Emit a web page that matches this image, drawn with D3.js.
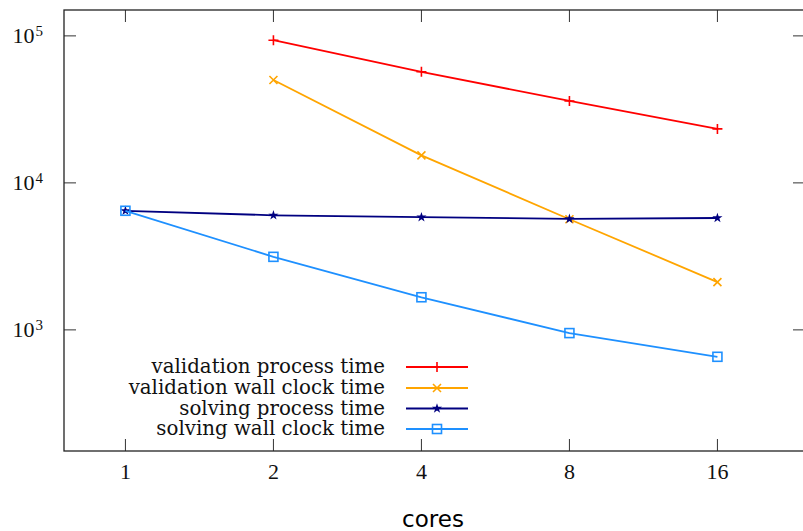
<!DOCTYPE html>
<html>
<head>
<meta charset="utf-8">
<script src="https://cdn.jsdelivr.net/npm/d3@7"></script>
<style>
  html, body { margin: 0; padding: 0; background: #fff; }
  svg { display: block; }
  .tick-num { font-family: "Liberation Serif", serif; font-size: 22px; fill: #111; }
  .legend-text { font-family: "DejaVu Serif", serif; font-size: 19.8px; fill: #111; }
  .axis-title { font-family: "DejaVu Sans", sans-serif; font-size: 23px; fill: #000; }
</style>
</head>
<body>
<svg width="803" height="531"></svg>
<script>
// data
var cores = [1, 2, 4, 8, 16];
var validationProcess = [null, 93500, 57000, 36100, 23300];
var validationWall = [null, 50100, 15400, 5660, 2115];
var solvingProcess = [6460, 6020, 5840, 5690, 5770];
var solvingWall = [6460, 3140, 1667, 951, 656];
var yTicks = [1000, 10000, 100000];

var svg = d3.select("svg"),
    width = +svg.attr("width"),
    height = +svg.attr("height");

var plotLeft = 64, plotRight = 804, plotTop = 10, plotBottom = 451;

var x = d3.scaleLog().base(2).domain([0.75, 24]).range([plotLeft, plotRight]);
var y = d3.scaleLog().domain([150, 150000]).range([plotBottom, plotTop]);

var series = [
    { name: "validation process time", values: validationProcess, color: "#ff0000", marker: "plus" },
    { name: "validation wall clock time", values: validationWall, color: "#ffa500", marker: "cross" },
    { name: "solving process time", values: solvingProcess, color: "#000080", marker: "star" },
    { name: "solving wall clock time", values: solvingWall, color: "#1e90ff", marker: "square" }
];

// ticks (inner, mirrored)
var tickG = svg.append("g").attr("stroke", "#333").attr("stroke-width", 1);
cores.forEach(function (c) {
    tickG.append("line").attr("x1", x(c)).attr("x2", x(c)).attr("y1", plotBottom).attr("y2", plotBottom - 12);
    tickG.append("line").attr("x1", x(c)).attr("x2", x(c)).attr("y1", plotTop).attr("y2", plotTop + 12);
});
yTicks.forEach(function (v) {
    tickG.append("line").attr("x1", plotLeft).attr("x2", plotLeft + 12).attr("y1", y(v)).attr("y2", y(v));
    tickG.append("line").attr("x1", plotRight - 11).attr("x2", plotRight).attr("y1", y(v)).attr("y2", y(v));
});

// frame
svg.append("rect")
    .attr("x", plotLeft).attr("y", plotTop)
    .attr("width", plotRight - plotLeft).attr("height", plotBottom - plotTop)
    .attr("fill", "none").attr("stroke", "#222").attr("stroke-width", 1.3);

// tick labels
svg.append("g").selectAll("text")
    .data(cores)
    .enter().append("text")
    .attr("class", "tick-num")
    .attr("x", function (d) { return x(d); })
    .attr("y", 479)
    .attr("text-anchor", "middle")
    .text(function (d) { return d; });

var yl = svg.append("g").selectAll("text")
    .data(yTicks)
    .enter().append("text")
    .attr("class", "tick-num")
    .attr("x", 43)
    .attr("y", function (d) { return y(d) + 7; })
    .attr("text-anchor", "end");
yl.append("tspan").text("10");
yl.append("tspan")
    .attr("dx", 1)
    .attr("dy", -7)
    .style("font-size", "15px")
    .text(function (d) { return Math.round(Math.log10(d)); });

svg.append("text")
    .attr("class", "axis-title")
    .attr("x", (plotLeft + plotRight) / 2 - 1)
    .attr("y", 527)
    .attr("text-anchor", "middle")
    .text("cores");

function drawMarker(g, type, color, cx, cy) {
    if (type === "plus") {
        g.append("path").attr("d", "M" + (cx - 5) + "," + cy + "h10M" + cx + "," + (cy - 5) + "v10")
            .attr("stroke", color).attr("stroke-width", 1.6).attr("fill", "none");
    } else if (type === "cross") {
        g.append("path").attr("d", "M" + (cx - 4) + "," + (cy - 4) + "l8,8M" + (cx - 4) + "," + (cy + 4) + "l8,-8")
            .attr("stroke", color).attr("stroke-width", 1.6).attr("fill", "none");
    } else if (type === "star") {
        g.append("path").attr("d", d3.symbol().type(d3.symbolStar).size(32)())
            .attr("transform", "translate(" + cx + "," + cy + ")")
            .attr("fill", color);
    } else {
        g.append("rect").attr("x", cx - 4.5).attr("y", cy - 4.5).attr("width", 9).attr("height", 9)
            .attr("fill", "none").attr("stroke", color).attr("stroke-width", 1.6);
    }
}

var line = d3.line()
    .defined(function (d) { return d.v != null; })
    .x(function (d) { return x(d.c); })
    .y(function (d) { return y(d.v); });

series.forEach(function (s) {
    var pts = cores.map(function (c, i) { return { c: c, v: s.values[i] }; });
    var g = svg.append("g");
    g.append("path")
        .attr("d", line(pts))
        .attr("fill", "none")
        .attr("stroke", s.color)
        .attr("stroke-width", 1.8);
    pts.filter(function (d) { return d.v != null; }).forEach(function (d) {
        drawMarker(g, s.marker, s.color, x(d.c), y(d.v));
    });
});

// legend
var legendY = [367, 388, 408.5, 429];
series.forEach(function (s, i) {
    var g = svg.append("g");
    g.append("text")
        .attr("class", "legend-text")
        .attr("x", 385)
        .attr("y", legendY[i] + 6)
        .attr("text-anchor", "end")
        .text(s.name);
    g.append("line")
        .attr("x1", 406).attr("x2", 468)
        .attr("y1", legendY[i]).attr("y2", legendY[i])
        .attr("stroke", s.color).attr("stroke-width", 1.8);
    drawMarker(g, s.marker, s.color, 437, legendY[i]);
});
</script>
</body>
</html>
